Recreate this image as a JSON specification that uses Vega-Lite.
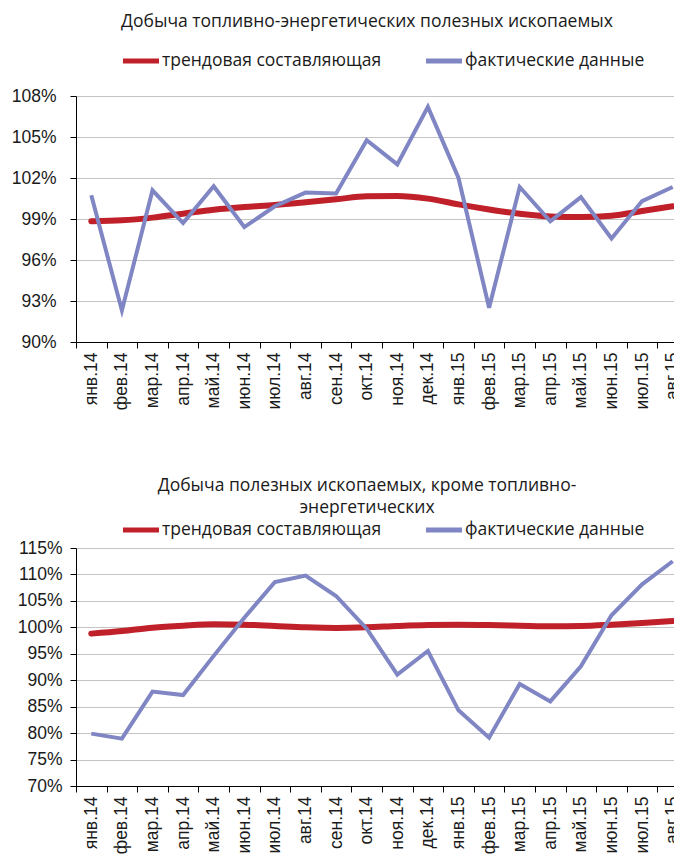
{
  "$schema": "https://vega.github.io/schema/vega-lite/v6.json",
  "padding": {"left": 11, "top": 12, "right": 0, "bottom": 0},
  "background": "white",
  "datasets": {
    "top": [
      {"m": "янв.14", "s": "трендовая составляющая", "v": 98.83},
      {"m": "фев.14", "s": "трендовая составляющая", "v": 98.9},
      {"m": "мар.14", "s": "трендовая составляющая", "v": 99.1},
      {"m": "апр.14", "s": "трендовая составляющая", "v": 99.39},
      {"m": "май.14", "s": "трендовая составляющая", "v": 99.68},
      {"m": "июн.14", "s": "трендовая составляющая", "v": 99.88},
      {"m": "июл.14", "s": "трендовая составляющая", "v": 100.02},
      {"m": "авг.14", "s": "трендовая составляющая", "v": 100.22},
      {"m": "сен.14", "s": "трендовая составляющая", "v": 100.44},
      {"m": "окт.14", "s": "трендовая составляющая", "v": 100.66},
      {"m": "ноя.14", "s": "трендовая составляющая", "v": 100.68},
      {"m": "дек.14", "s": "трендовая составляющая", "v": 100.49},
      {"m": "янв.15", "s": "трендовая составляющая", "v": 100.07},
      {"m": "фев.15", "s": "трендовая составляющая", "v": 99.7},
      {"m": "мар.15", "s": "трендовая составляющая", "v": 99.39},
      {"m": "апр.15", "s": "трендовая составляющая", "v": 99.19},
      {"m": "май.15", "s": "трендовая составляющая", "v": 99.14},
      {"m": "июн.15", "s": "трендовая составляющая", "v": 99.24},
      {"m": "июл.15", "s": "трендовая составляющая", "v": 99.58},
      {"m": "авг.15", "s": "трендовая составляющая", "v": 99.93},
      {"m": "янв.14", "s": "фактические данные", "v": 100.73},
      {"m": "фев.14", "s": "фактические данные", "v": 92.31},
      {"m": "мар.14", "s": "фактические данные", "v": 101.1},
      {"m": "апр.14", "s": "фактические данные", "v": 98.7},
      {"m": "май.14", "s": "фактические данные", "v": 101.39},
      {"m": "июн.14", "s": "фактические данные", "v": 98.41},
      {"m": "июл.14", "s": "фактические данные", "v": 99.93},
      {"m": "авг.14", "s": "фактические данные", "v": 100.93},
      {"m": "сен.14", "s": "фактические данные", "v": 100.87},
      {"m": "окт.14", "s": "фактические данные", "v": 104.76},
      {"m": "ноя.14", "s": "фактические данные", "v": 103.0},
      {"m": "дек.14", "s": "фактические данные", "v": 107.2},
      {"m": "янв.15", "s": "фактические данные", "v": 102.0},
      {"m": "фев.15", "s": "фактические данные", "v": 92.5},
      {"m": "мар.15", "s": "фактические данные", "v": 101.34},
      {"m": "апр.15", "s": "фактические данные", "v": 98.83},
      {"m": "май.15", "s": "фактические данные", "v": 100.6},
      {"m": "июн.15", "s": "фактические данные", "v": 97.58},
      {"m": "июл.15", "s": "фактические данные", "v": 100.31},
      {"m": "авг.15", "s": "фактические данные", "v": 101.34}
    ],
    "bottom": [
      {"m": "янв.14", "s": "трендовая составляющая", "v": 98.81},
      {"m": "фев.14", "s": "трендовая составляющая", "v": 99.31},
      {"m": "мар.14", "s": "трендовая составляющая", "v": 99.94},
      {"m": "апр.14", "s": "трендовая составляющая", "v": 100.32},
      {"m": "май.14", "s": "трендовая составляющая", "v": 100.57},
      {"m": "июн.14", "s": "трендовая составляющая", "v": 100.5},
      {"m": "июл.14", "s": "трендовая составляющая", "v": 100.25},
      {"m": "авг.14", "s": "трендовая составляющая", "v": 100.0},
      {"m": "сен.14", "s": "трендовая составляющая", "v": 99.88},
      {"m": "окт.14", "s": "трендовая составляющая", "v": 100.0},
      {"m": "ноя.14", "s": "трендовая составляющая", "v": 100.25},
      {"m": "дек.14", "s": "трендовая составляющая", "v": 100.44},
      {"m": "янв.15", "s": "трендовая составляющая", "v": 100.5},
      {"m": "фев.15", "s": "трендовая составляющая", "v": 100.44},
      {"m": "мар.15", "s": "трендовая составляющая", "v": 100.32},
      {"m": "апр.15", "s": "трендовая составляющая", "v": 100.19},
      {"m": "май.15", "s": "трендовая составляющая", "v": 100.25},
      {"m": "июн.15", "s": "трендовая составляющая", "v": 100.5},
      {"m": "июл.15", "s": "трендовая составляющая", "v": 100.82},
      {"m": "авг.15", "s": "трендовая составляющая", "v": 101.2},
      {"m": "янв.14", "s": "фактические данные", "v": 79.9},
      {"m": "фев.14", "s": "фактические данные", "v": 78.96},
      {"m": "мар.14", "s": "фактические данные", "v": 87.85},
      {"m": "апр.14", "s": "фактические данные", "v": 87.2},
      {"m": "май.14", "s": "фактические данные", "v": 94.6},
      {"m": "июн.14", "s": "фактические данные", "v": 101.8},
      {"m": "июл.14", "s": "фактические данные", "v": 108.58},
      {"m": "авг.14", "s": "фактические данные", "v": 109.77},
      {"m": "сен.14", "s": "фактические данные", "v": 105.93},
      {"m": "окт.14", "s": "фактические данные", "v": 99.75},
      {"m": "ноя.14", "s": "фактические данные", "v": 91.06},
      {"m": "дек.14", "s": "фактические данные", "v": 95.53},
      {"m": "янв.15", "s": "фактические данные", "v": 84.31},
      {"m": "фев.15", "s": "фактические данные", "v": 79.14},
      {"m": "мар.15", "s": "фактические данные", "v": 89.3},
      {"m": "апр.15", "s": "фактические данные", "v": 86.0},
      {"m": "май.15", "s": "фактические данные", "v": 92.63},
      {"m": "июн.15", "s": "фактические данные", "v": 102.27},
      {"m": "июл.15", "s": "фактические данные", "v": 108.14},
      {"m": "авг.15", "s": "фактические данные", "v": 112.49}
    ]
  },
  "config": {
    "font": "Open Sans",
    "view": {"stroke": null},
    "title": {"fontSize": 17.5, "fontWeight": "normal", "color": "#1a1a1a", "anchor": "middle", "dx": -15},
    "axis": {
      "labelFont": "Liberation Sans",
      "labelFontSize": 17.5,
      "labelColor": "#1a1a1a",
      "domainColor": "#000000",
      "tickColor": "#000000",
      "tickSize": 6,
      "title": null
    },
    "legend": {
      "layout": {"top": {"anchor": "middle"}}
    }
  },
  "resolve": {"scale": {"color": "independent"}},
  "spacing": 66,
  "vconcat": [
    {
      "title": {"text": "Добыча топливно-энергетических полезных ископаемых", "offset": 10},
      "width": 612,
      "height": 246,
      "data": {"name": "top"},
      "encoding": {
        "x": {
          "field": "m", "type": "nominal",
          "scale": {"domain": ["янв.14","фев.14","мар.14","апр.14","май.14","июн.14","июл.14","авг.14","сен.14","окт.14","ноя.14","дек.14","янв.15","фев.15","мар.15","апр.15","май.15","июн.15","июл.15","авг.15"], "paddingInner": 0, "paddingOuter": 0},
          "axis": {"labelAngle": -90, "tickBand": "extent", "grid": false, "labelPadding": 4}
        },
        "y": {
          "field": "v", "type": "quantitative",
          "scale": {"domain": [90, 108], "nice": false, "zero": false},
          "axis": {"values": [90, 93, 96, 99, 102, 105, 108], "labelExpr": "datum.value + '%'", "gridColor": "#c4c4c4", "gridWidth": 1.2, "labelPadding": 14}
        },
        "color": {
          "field": "s", "type": "nominal",
          "scale": {"domain": ["трендовая составляющая", "фактические данные"], "range": ["#C0202A", "#7F86C3"]},
          "legend": {"orient": "top", "direction": "horizontal", "title": null, "symbolType": "stroke", "symbolStrokeWidth": 5, "symbolSize": 1300, "labelFontSize": 17.5, "labelLimit": 0, "labelColor": "#1a1a1a", "labelOffset": 0, "columnPadding": 33, "offset": 25}
        }
      },
      "layer": [
        {"transform": [{"filter": "datum.s == 'трендовая составляющая'"}], "mark": {"type": "line", "strokeWidth": 6, "strokeCap": "round", "interpolate": "monotone"}},
        {"transform": [{"filter": "datum.s == 'фактические данные'"}], "mark": {"type": "line", "strokeWidth": 4}}
      ]
    },
    {
      "title": {"text": ["Добыча полезных ископаемых, кроме топливно-", "энергетических"], "offset": -7, "lineHeight": 22},
      "width": 612,
      "height": 238,
      "data": {"name": "bottom"},
      "encoding": {
        "x": {
          "field": "m", "type": "nominal",
          "scale": {"domain": ["янв.14","фев.14","мар.14","апр.14","май.14","июн.14","июл.14","авг.14","сен.14","окт.14","ноя.14","дек.14","янв.15","фев.15","мар.15","апр.15","май.15","июн.15","июл.15","авг.15"], "paddingInner": 0, "paddingOuter": 0},
          "axis": {"labelAngle": -90, "tickBand": "extent", "grid": false, "labelPadding": 4}
        },
        "y": {
          "field": "v", "type": "quantitative",
          "scale": {"domain": [70, 115], "nice": false, "zero": false},
          "axis": {"values": [70, 75, 80, 85, 90, 95, 100, 105, 110, 115], "labelExpr": "datum.value + '%'", "gridColor": "#c4c4c4", "gridWidth": 1.2, "labelPadding": 8}
        },
        "color": {
          "field": "s", "type": "nominal",
          "scale": {"domain": ["трендовая составляющая", "фактические данные"], "range": ["#C0202A", "#7F86C3"]},
          "legend": {"orient": "top", "direction": "horizontal", "title": null, "symbolType": "stroke", "symbolStrokeWidth": 5, "symbolSize": 1300, "labelFontSize": 17.5, "labelLimit": 0, "labelColor": "#1a1a1a", "labelOffset": 0, "columnPadding": 33, "offset": 8}
        }
      },
      "layer": [
        {"transform": [{"filter": "datum.s == 'трендовая составляющая'"}], "mark": {"type": "line", "strokeWidth": 6, "strokeCap": "round", "interpolate": "monotone"}},
        {"transform": [{"filter": "datum.s == 'фактические данные'"}], "mark": {"type": "line", "strokeWidth": 4}}
      ]
    }
  ]
}
